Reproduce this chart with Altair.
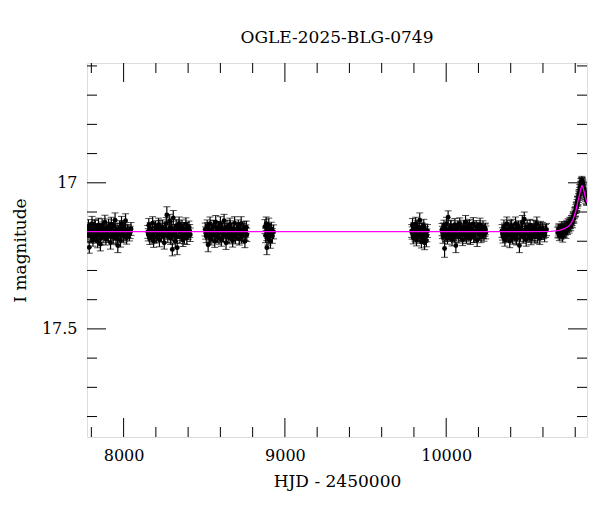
import altair as alt
import pandas as pd

# ---- photometry, (HJD-2450000, I mag, error) per observing season ----
season1 = [(7776, 17.165, .022), (7782, 17.150, .024), (7787, 17.221, .020), (7793, 17.182, .023),
           (7799, 17.158, .021), (7804, 17.140, .025), (7810, 17.195, .022), (7816, 17.170, .020),
           (7821, 17.152, .026), (7827, 17.185, .021), (7833, 17.163, .023), (7839, 17.200, .022),
           (7844, 17.145, .024), (7850, 17.172, .020), (7856, 17.210, .023), (7861, 17.160, .021),
           (7867, 17.148, .025), (7873, 17.183, .022), (7879, 17.168, .020), (7884, 17.135, .024),
           (7890, 17.192, .021), (7896, 17.158, .023), (7901, 17.178, .022), (7907, 17.150, .026),
           (7913, 17.170, .020), (7919, 17.205, .022), (7924, 17.142, .024), (7930, 17.162, .021),
           (7936, 17.186, .023), (7941, 17.171, .020), (7947, 17.128, .025), (7953, 17.190, .022),
           (7959, 17.160, .021), (7964, 17.215, .024), (7970, 17.176, .020), (7976, 17.153, .023),
           (7981, 17.198, .022), (7987, 17.140, .025), (7993, 17.168, .021), (7999, 17.182, .023),
           (8005, 17.157, .020), (8012, 17.130, .024), (8019, 17.188, .022), (8027, 17.166, .021),
           (8036, 17.176, .023), (8046, 17.158, .022),
           (7779, 17.175, .021), (7791, 17.160, .022), (7802, 17.185, .021), (7814, 17.168, .022),
           (7825, 17.150, .021), (7836, 17.178, .022), (7848, 17.162, .021), (7859, 17.190, .022),
           (7870, 17.155, .021), (7882, 17.170, .022), (7893, 17.165, .021), (7905, 17.182, .022),
           (7916, 17.158, .021), (7928, 17.175, .022), (7939, 17.148, .021), (7950, 17.168, .022),
           (7962, 17.185, .021), (7973, 17.160, .022), (7985, 17.172, .021), (7996, 17.152, .022),
           (8009, 17.178, .021), (8023, 17.165, .022), (8041, 17.170, .021)]
season2 = [(8150, 17.168, .022), (8156, 17.145, .023), (8162, 17.190, .021), (8168, 17.160, .022),
           (8174, 17.178, .024), (8180, 17.138, .022), (8186, 17.200, .021), (8192, 17.165, .023),
           (8198, 17.152, .022), (8204, 17.185, .020), (8210, 17.170, .023), (8216, 17.143, .022),
           (8222, 17.195, .024), (8228, 17.160, .021), (8234, 17.180, .022), (8240, 17.150, .023),
           (8246, 17.172, .020), (8252, 17.205, .022), (8258, 17.158, .024), (8264, 17.140, .021),
           (8268, 17.110, .028), (8274, 17.183, .022), (8280, 17.165, .023), (8286, 17.130, .022),
           (8292, 17.190, .021), (8298, 17.155, .024), (8302, 17.228, .022), (8308, 17.120, .025),
           (8314, 17.170, .021), (8320, 17.200, .023), (8326, 17.148, .022), (8332, 17.222, .024),
           (8338, 17.162, .021), (8344, 17.140, .023), (8350, 17.185, .022), (8356, 17.168, .020),
           (8362, 17.150, .023), (8368, 17.196, .022), (8374, 17.160, .024), (8380, 17.175, .021),
           (8386, 17.142, .022), (8392, 17.188, .023), (8398, 17.165, .021), (8405, 17.153, .022),
           (8413, 17.178, .023),
           (8153, 17.178, .021), (8165, 17.158, .022), (8177, 17.170, .021), (8189, 17.185, .022),
           (8201, 17.162, .021), (8213, 17.175, .022), (8225, 17.150, .021), (8237, 17.168, .022),
           (8249, 17.182, .021), (8261, 17.160, .022), (8277, 17.172, .021), (8289, 17.155, .022),
           (8305, 17.178, .021), (8317, 17.165, .022), (8329, 17.185, .021), (8341, 17.152, .022),
           (8353, 17.170, .021), (8365, 17.162, .022), (8377, 17.188, .021), (8389, 17.158, .022),
           (8401, 17.172, .021), (8410, 17.165, .022)]
season3 = [(8506, 17.160, .022), (8512, 17.182, .023), (8518, 17.148, .021), (8524, 17.212, .024),
           (8530, 17.170, .022), (8536, 17.140, .023), (8541, 17.192, .021), (8547, 17.162, .022),
           (8553, 17.178, .024), (8559, 17.150, .022), (8565, 17.200, .021), (8571, 17.135, .023),
           (8577, 17.168, .022), (8582, 17.185, .020), (8588, 17.155, .023), (8594, 17.172, .022),
           (8600, 17.140, .024), (8606, 17.196, .021), (8612, 17.162, .022), (8618, 17.180, .023),
           (8623, 17.130, .022), (8629, 17.170, .021), (8635, 17.205, .023), (8641, 17.150, .022),
           (8647, 17.165, .024), (8653, 17.188, .021), (8659, 17.143, .022), (8664, 17.176, .023),
           (8670, 17.158, .021), (8676, 17.198, .022), (8682, 17.170, .023), (8688, 17.138, .022),
           (8694, 17.185, .024), (8700, 17.160, .021), (8705, 17.175, .022), (8711, 17.150, .023),
           (8717, 17.192, .021), (8723, 17.163, .022), (8729, 17.140, .024), (8735, 17.180, .022),
           (8741, 17.168, .021), (8747, 17.155, .023), (8752, 17.200, .022), (8758, 17.165, .021),
           (8764, 17.178, .023),
           (8509, 17.172, .021), (8521, 17.158, .022), (8533, 17.185, .021), (8544, 17.165, .022),
           (8556, 17.150, .021), (8568, 17.178, .022), (8580, 17.162, .021), (8591, 17.188, .022),
           (8603, 17.155, .021), (8615, 17.170, .022), (8626, 17.160, .021), (8638, 17.182, .022),
           (8650, 17.168, .021), (8662, 17.152, .022), (8673, 17.185, .021), (8685, 17.162, .022),
           (8697, 17.175, .021), (8708, 17.158, .022), (8720, 17.170, .021), (8732, 17.185, .022),
           (8744, 17.160, .021), (8755, 17.175, .022), (8761, 17.152, .021)]
season4 = [(8876, 17.150, .024), (8880, 17.180, .025), (8884, 17.140, .023), (8888, 17.222, .024),
           (8892, 17.165, .025), (8896, 17.190, .023), (8900, 17.145, .024), (8904, 17.172, .025),
           (8910, 17.200, .024), (8916, 17.158, .023), (8922, 17.182, .025), (8930, 17.168, .024)]
season5 = [(9786, 17.165, .022), (9791, 17.145, .023), (9796, 17.188, .021), (9801, 17.158, .022),
           (9806, 17.175, .024), (9811, 17.140, .022), (9816, 17.195, .021), (9821, 17.162, .023),
           (9826, 17.180, .022), (9831, 17.152, .021), (9836, 17.128, .025), (9841, 17.170, .022),
           (9846, 17.200, .023), (9851, 17.160, .021), (9856, 17.185, .022), (9861, 17.148, .023),
           (9866, 17.205, .024), (9871, 17.172, .022), (9877, 17.198, .021), (9884, 17.165, .022),
           (9789, 17.172, .021), (9799, 17.160, .022), (9809, 17.182, .021), (9819, 17.150, .022),
           (9829, 17.170, .021), (9839, 17.185, .022), (9849, 17.158, .021), (9859, 17.175, .022),
           (9869, 17.162, .021), (9880, 17.180, .022)]
season6 = [(9974, 17.160, .021), (9980, 17.185, .022), (9986, 17.148, .020), (9990, 17.225, .030),
           (9996, 17.172, .021), (10002, 17.140, .022), (10008, 17.190, .020), (10012, 17.118, .022),
           (10018, 17.165, .021), (10024, 17.180, .020), (10030, 17.150, .022), (10036, 17.195, .021),
           (10042, 17.160, .020), (10048, 17.175, .022), (10054, 17.143, .021), (10060, 17.215, .024),
           (10066, 17.168, .020), (10072, 17.152, .022), (10078, 17.185, .021), (10084, 17.140, .020),
           (10090, 17.178, .022), (10096, 17.160, .021), (10102, 17.195, .020), (10108, 17.150, .022),
           (10114, 17.170, .021), (10120, 17.135, .023), (10126, 17.188, .020), (10132, 17.162, .021),
           (10138, 17.176, .022), (10144, 17.145, .020), (10150, 17.190, .021), (10156, 17.158, .022),
           (10162, 17.172, .020), (10168, 17.140, .021), (10174, 17.182, .022), (10180, 17.165, .020),
           (10186, 17.150, .021), (10192, 17.196, .022), (10198, 17.160, .020), (10204, 17.175, .021),
           (10210, 17.143, .022), (10216, 17.185, .020), (10222, 17.168, .021), (10228, 17.152, .022),
           (10234, 17.180, .020), (10240, 17.162, .021), (10246, 17.170, .022),
           (9977, 17.170, .021), (9983, 17.158, .020), (9999, 17.180, .021), (10005, 17.162, .020),
           (10015, 17.175, .021), (10027, 17.150, .020), (10039, 17.168, .021), (10051, 17.185, .020),
           (10063, 17.160, .021), (10075, 17.172, .020), (10087, 17.155, .021), (10099, 17.178, .020),
           (10111, 17.165, .021), (10123, 17.182, .020), (10135, 17.150, .021), (10147, 17.170, .020),
           (10159, 17.160, .021), (10171, 17.185, .020), (10183, 17.168, .021), (10195, 17.155, .020),
           (10207, 17.175, .021), (10219, 17.162, .020), (10231, 17.170, .021), (10243, 17.158, .020)]
season7 = [(10346, 17.165, .022), (10352, 17.185, .021), (10358, 17.150, .023), (10364, 17.195, .022),
           (10370, 17.168, .021), (10376, 17.140, .023), (10382, 17.180, .022), (10388, 17.158, .020),
           (10394, 17.200, .022), (10400, 17.172, .021), (10406, 17.148, .023), (10412, 17.188, .022),
           (10418, 17.162, .021), (10424, 17.176, .022), (10430, 17.140, .023), (10436, 17.192, .021),
           (10442, 17.165, .022), (10448, 17.150, .020), (10454, 17.215, .024), (10460, 17.178, .022),
           (10466, 17.160, .021), (10472, 17.135, .023), (10478, 17.185, .022), (10484, 17.125, .025),
           (10490, 17.170, .021), (10496, 17.195, .022), (10502, 17.152, .023), (10508, 17.168, .021),
           (10514, 17.182, .022), (10520, 17.145, .020), (10526, 17.190, .022), (10532, 17.160, .021),
           (10538, 17.175, .023), (10544, 17.150, .022), (10550, 17.185, .021), (10556, 17.165, .022),
           (10562, 17.140, .023), (10568, 17.178, .021), (10574, 17.160, .022), (10580, 17.190, .021),
           (10586, 17.155, .023), (10592, 17.172, .022), (10600, 17.165, .021), (10610, 17.180, .022),
           (10622, 17.160, .021),
           (10349, 17.175, .021), (10361, 17.160, .022), (10373, 17.182, .021), (10385, 17.168, .022),
           (10397, 17.150, .021), (10409, 17.178, .022), (10421, 17.162, .021), (10433, 17.185, .022),
           (10445, 17.155, .021), (10457, 17.170, .022), (10469, 17.165, .021), (10481, 17.180, .022),
           (10493, 17.158, .021), (10505, 17.172, .022), (10517, 17.162, .021), (10529, 17.178, .022),
           (10541, 17.168, .021), (10553, 17.152, .022), (10565, 17.185, .021), (10577, 17.165, .022),
           (10589, 17.172, .021), (10596, 17.158, .022), (10605, 17.170, .021), (10616, 17.165, .022)]
season8 = [(10692, 17.170, .018), (10697, 17.158, .017), (10702, 17.180, .018), (10707, 17.162, .017),
           (10712, 17.175, .018), (10717, 17.150, .017), (10722, 17.185, .018), (10727, 17.160, .017),
           (10732, 17.168, .018), (10737, 17.150, .017), (10742, 17.172, .018), (10747, 17.145, .017),
           (10752, 17.160, .017), (10757, 17.140, .017), (10762, 17.155, .017), (10767, 17.135, .017),
           (10772, 17.148, .016), (10777, 17.128, .016), (10782, 17.138, .016), (10787, 17.115, .016),
           (10792, 17.122, .016), (10797, 17.100, .016), (10802, 17.098, .016), (10806, 17.082, .015),
           (10810, 17.080, .015), (10814, 17.062, .015), (10818, 17.060, .015), (10822, 17.040, .015),
           (10826, 17.038, .015), (10829, 17.020, .014), (10832, 17.018, .014), (10835, 17.000, .014),
           (10838, 16.998, .014), (10841, 16.992, .014), (10844, 17.000, .014), (10847, 17.005, .014),
           (10851, 17.018, .014), (10856, 17.030, .015), (10861, 17.042, .015), (10866, 17.055, .015),
           (10871, 17.062, .015),
           (10695, 17.165, .017), (10700, 17.172, .017), (10705, 17.158, .017), (10710, 17.168, .017),
           (10715, 17.162, .017), (10720, 17.170, .017), (10725, 17.155, .017), (10730, 17.165, .017),
           (10735, 17.158, .017), (10740, 17.162, .017), (10745, 17.152, .017), (10750, 17.155, .017),
           (10755, 17.148, .016), (10760, 17.150, .016), (10765, 17.142, .016), (10770, 17.140, .016),
           (10775, 17.135, .016), (10780, 17.130, .016), (10785, 17.122, .016), (10790, 17.118, .016),
           (10795, 17.108, .015), (10800, 17.102, .015), (10804, 17.090, .015), (10808, 17.085, .015),
           (10812, 17.072, .015), (10816, 17.065, .015), (10820, 17.052, .015), (10824, 17.045, .015),
           (10828, 17.030, .014), (10831, 17.025, .014), (10834, 17.010, .014), (10837, 17.008, .014),
           (10840, 16.998, .014), (10843, 16.996, .014), (10846, 17.004, .014), (10849, 17.010, .014),
           (10854, 17.022, .014), (10859, 17.035, .015), (10864, 17.048, .015), (10869, 17.060, .015)]

# ---- microlensing model curve ----
model_t = [7700, 10500, 10650, 10700, 10730, 10760, 10775, 10785, 10795, 10805, 10815,
           10825, 10832, 10838, 10842, 10846, 10852, 10858, 10865, 10873]
model_m = [17.167, 17.167, 17.166, 17.163, 17.158, 17.148, 17.138, 17.128, 17.112, 17.093, 17.068,
           17.045, 17.027, 17.014, 17.010, 17.013, 17.024, 17.038, 17.053, 17.068]

# ---- axis ticks / labels ----
x_major = [8000, 9000, 10000]
x_minor = [7800, 8200, 8400, 8600, 8800, 9200, 9400, 9600, 9800, 10200, 10400, 10600, 10800]
y_major = [17.0, 17.5]
y_minor = [16.6, 16.7, 16.8, 16.9, 17.1, 17.2, 17.3, 17.4, 17.6, 17.7, 17.8]

W, H = 500, 374
MAJ, MIN = 19, 10
FONT = "DejaVu Serif"

rows = []
for s in (season1, season2, season3, season4, season5, season6, season7, season8):
    for t, m, e in s:
        rows.append({"t": t, "m": m, "lo": m - e, "hi": m + e})
obs = pd.DataFrame(rows)
caps = pd.concat([obs[["t", "lo"]].rename(columns={"lo": "m"}),
                  obs[["t", "hi"]].rename(columns={"hi": "m"})])
model = pd.DataFrame({"t": model_t, "m": model_m})

xs = alt.Scale(domain=[7773, 10873], nice=False, zero=False)
ys = alt.Scale(domain=[16.59, 17.87], reverse=True, nice=False, zero=False)
xaxis = alt.Axis(values=x_major, format="d", ticks=False, tickSize=0, domain=False, grid=False,
                 labelFont=FONT, labelFontSize=16, labelColor="black", labelPadding=10,
                 labelOverlap=False, labelFlush=False,
                 titleFont=FONT, titleFontSize=17, titleFontWeight="normal", titleColor="black",
                 titlePadding=10)
yaxis = alt.Axis(values=y_major, format="~g", ticks=False, tickSize=0, domain=False, grid=False,
                 labelFont=FONT, labelFontSize=16, labelColor="black", labelPadding=10,
                 labelOverlap=False, labelFlush=False,
                 titleFont=FONT, titleFontSize=17, titleFontWeight="normal", titleColor="black",
                 titlePadding=12)
X = alt.X("t:Q", scale=xs, axis=xaxis, title="HJD - 2450000")
Y = alt.Y("m:Q", scale=ys, axis=yaxis, title="I magnitude")

bars = alt.Chart(obs).mark_rule(color="black", strokeWidth=1.2, clip=True).encode(
    x=X, y=alt.Y("lo:Q", scale=ys, axis=yaxis, title="I magnitude"), y2="hi:Q")
capm = alt.Chart(caps).mark_tick(color="black", orient="horizontal", size=7, thickness=1,
                                 clip=True).encode(x=X, y=Y)
pts = alt.Chart(obs).mark_circle(color="black", size=24, opacity=1, clip=True).encode(x=X, y=Y)
line = alt.Chart(model).mark_line(color="#ff00ff", strokeWidth=1.3, clip=True).encode(x=X, y=Y)

xmaj = pd.DataFrame({"t": x_major})
xmin = pd.DataFrame({"t": x_minor})
ymaj = pd.DataFrame({"m": y_major})
ymin = pd.DataFrame({"m": y_minor})

def xticks(df, L):
    b = alt.Chart(df).mark_rule(color="black", strokeWidth=1).encode(
        x=X, y=alt.value(H), y2=alt.value(H - L))
    t = alt.Chart(df).mark_rule(color="black", strokeWidth=1).encode(
        x=X, y=alt.value(0), y2=alt.value(L))
    return [b, t]

def yticks(df, L):
    l = alt.Chart(df).mark_rule(color="black", strokeWidth=1).encode(
        y=Y, x=alt.value(0), x2=alt.value(L))
    r = alt.Chart(df).mark_rule(color="black", strokeWidth=1).encode(
        y=Y, x=alt.value(W), x2=alt.value(W - L))
    return [l, r]

layers = [bars, capm, pts, line] + xticks(xmaj, MAJ) + xticks(xmin, MIN) + \
    yticks(ymaj, MAJ) + yticks(ymin, MIN)

chart = alt.layer(*layers).properties(
    width=W, height=H,
    title=alt.TitleParams("OGLE-2025-BLG-0749", font=FONT, fontSize=17, fontWeight="normal",
                          color="black", offset=16),
    autosize=alt.AutoSizeParams(type="none"),
    padding={"left": 79, "top": 55, "right": 5, "bottom": 70},
).configure_view(stroke="black", strokeWidth=1).configure(background="white")

chart.save("out.html", embed_options={"renderer": "svg", "actions": False})
